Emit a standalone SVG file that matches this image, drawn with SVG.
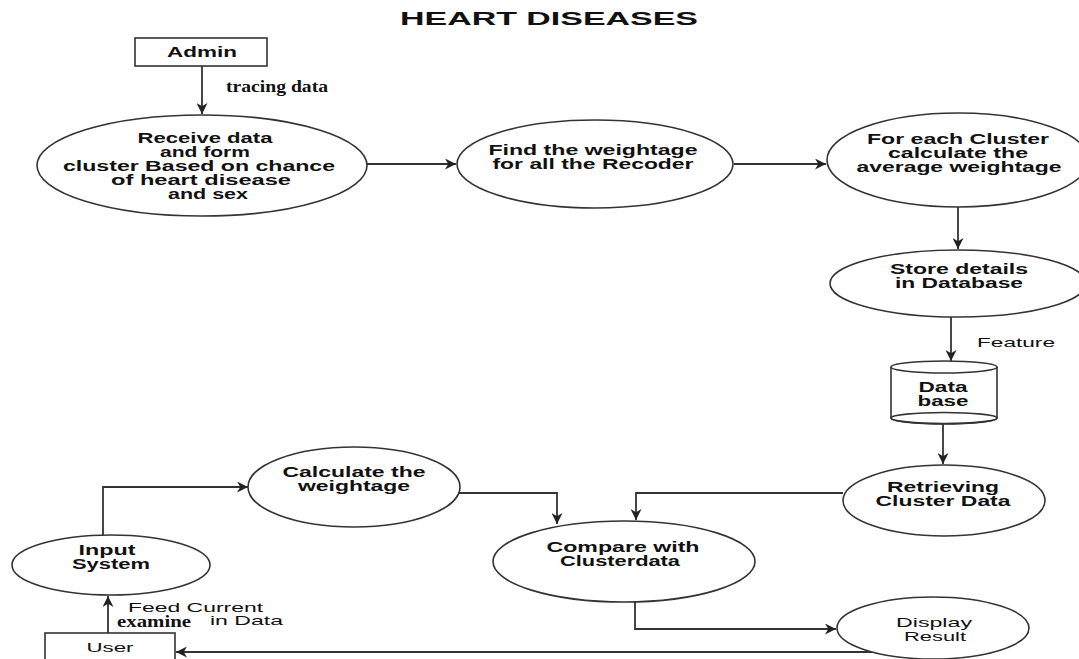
<svg xmlns="http://www.w3.org/2000/svg" width="1079" height="659" viewBox="0 0 1079 659">
<style>
.shape{fill:#fff;stroke:#333;stroke-width:1.6}
.conn{fill:none;stroke:#333;stroke-width:1.8}
text{fill:#111;text-anchor:middle}
.b{font-family:"Liberation Sans",Arial,sans-serif;font-weight:bold;font-size:14px}
.r{font-family:"Liberation Sans",Arial,sans-serif;font-size:13px}
.s{font-family:"Liberation Serif","Times New Roman",serif;font-weight:bold;font-size:16px}
.t{font-family:"Liberation Sans",Arial,sans-serif;font-weight:bold;font-size:19px}
</style>
<defs>
<marker id="arr" viewBox="0 0 10 10" refX="10" refY="5" markerWidth="11" markerHeight="11" markerUnits="userSpaceOnUse" orient="auto">
<path d="M0,0 L10,5 L0,10 L3,5 z" fill="#222"/>
</marker>
</defs>
<rect width="1079" height="659" fill="#fff"/>
<text class="t" x="549" y="25" textLength="298" lengthAdjust="spacingAndGlyphs">HEART DISEASES</text>

<g id="connectors">
<path class="conn" d="M202,66 V114" marker-end="url(#arr)"/>
<path class="conn" d="M367,164 H456" marker-end="url(#arr)"/>
<path class="conn" d="M734,164 H826" marker-end="url(#arr)"/>
<path class="conn" d="M958,207 V249" marker-end="url(#arr)"/>
<path class="conn" d="M951,317 V361" marker-end="url(#arr)"/>
<path class="conn" d="M943,424 V464" marker-end="url(#arr)"/>
<path class="conn" d="M843,493 H636 V520" marker-end="url(#arr)"/>
<path class="conn" d="M459,493 H557 V524" marker-end="url(#arr)"/>
<path class="conn" d="M103,535 V487 H248" marker-end="url(#arr)"/>
<path class="conn" d="M635,602 V629 H836" marker-end="url(#arr)"/>
<path class="conn" d="M872,652 H176" marker-end="url(#arr)"/>
<path class="conn" d="M108,633 V596" marker-end="url(#arr)"/>
<text class="s" x="277" y="92" textLength="102" lengthAdjust="spacingAndGlyphs">tracing data</text>
<text class="r" x="1016" y="347" textLength="78" lengthAdjust="spacingAndGlyphs">Feature</text>
<text class="r" x="195.5" y="612" textLength="135" lengthAdjust="spacingAndGlyphs">Feed Current</text>
<text class="r" x="246.5" y="625" textLength="73" lengthAdjust="spacingAndGlyphs">in Data</text>
<text class="s" x="154" y="627" font-size="15" textLength="74" lengthAdjust="spacingAndGlyphs">examine</text>
</g>

<g id="admin">
<rect class="shape" x="135" y="38" width="132" height="28"/>
<text class="b" x="202" y="57" font-size="13" textLength="70" lengthAdjust="spacingAndGlyphs">Admin</text>
</g>

<g id="receive">
<ellipse class="shape" cx="202" cy="165.5" rx="165" ry="50.5"/>
<text class="b" x="205" y="143" textLength="135" lengthAdjust="spacingAndGlyphs">Receive data</text>
<text class="b" x="205" y="157" textLength="90" lengthAdjust="spacingAndGlyphs">and form</text>
<text class="b" x="199" y="171" textLength="272" lengthAdjust="spacingAndGlyphs">cluster Based on chance</text>
<text class="b" x="201" y="185" textLength="180" lengthAdjust="spacingAndGlyphs">of heart disease</text>
<text class="b" x="208" y="199" textLength="80" lengthAdjust="spacingAndGlyphs">and sex</text>
</g>

<g id="find">
<ellipse class="shape" cx="595" cy="164" rx="138" ry="44"/>
<text class="b" x="593" y="155" textLength="209" lengthAdjust="spacingAndGlyphs">Find the weightage</text>
<text class="b" x="593" y="169" textLength="201" lengthAdjust="spacingAndGlyphs">for all the Recoder</text>
</g>

<g id="average">
<ellipse class="shape" cx="958" cy="160" rx="131" ry="47"/>
<text class="b" x="958" y="144" textLength="182" lengthAdjust="spacingAndGlyphs">For each Cluster</text>
<text class="b" x="958" y="158" textLength="140" lengthAdjust="spacingAndGlyphs">calculate the</text>
<text class="b" x="959" y="172" textLength="205" lengthAdjust="spacingAndGlyphs">average weightage</text>
</g>

<g id="store">
<ellipse class="shape" cx="958" cy="283.5" rx="128" ry="33.5"/>
<text class="b" x="959" y="274" textLength="138" lengthAdjust="spacingAndGlyphs">Store details</text>
<text class="b" x="959" y="288" textLength="128" lengthAdjust="spacingAndGlyphs">in Database</text>
</g>

<g id="database">
<path class="shape" d="M891,367 V418 A53,6 0 0 0 997,418 V367" stroke-width="2.4"/>
<ellipse class="shape" cx="944" cy="418" rx="53" ry="5.5" fill="none" style="fill:none"/>
<ellipse class="shape" cx="944" cy="367" rx="53" ry="6"/>
<text class="b" x="943" y="392" textLength="49" lengthAdjust="spacingAndGlyphs">Data</text>
<text class="b" x="943" y="406" textLength="51" lengthAdjust="spacingAndGlyphs">base</text>
</g>

<g id="retrieving">
<ellipse class="shape" cx="944" cy="500.5" rx="101" ry="35.5"/>
<text class="b" x="943" y="492" textLength="112" lengthAdjust="spacingAndGlyphs">Retrieving</text>
<text class="b" x="943" y="506" textLength="135" lengthAdjust="spacingAndGlyphs">Cluster Data</text>
</g>

<g id="calculate">
<ellipse class="shape" cx="354" cy="487" rx="106" ry="40"/>
<text class="b" x="354" y="477" textLength="143" lengthAdjust="spacingAndGlyphs">Calculate the</text>
<text class="b" x="354" y="491" textLength="112" lengthAdjust="spacingAndGlyphs">weightage</text>
</g>

<g id="compare">
<ellipse class="shape" cx="624" cy="561.5" rx="131" ry="40.5"/>
<text class="b" x="623" y="552" textLength="153" lengthAdjust="spacingAndGlyphs">Compare with</text>
<text class="b" x="620" y="566" textLength="120" lengthAdjust="spacingAndGlyphs">Clusterdata</text>
</g>

<g id="input">
<ellipse class="shape" cx="111" cy="565" rx="99" ry="30"/>
<text class="b" x="107" y="555" textLength="57" lengthAdjust="spacingAndGlyphs">Input</text>
<text class="b" x="111" y="569" textLength="78" lengthAdjust="spacingAndGlyphs">System</text>
</g>

<g id="display">
<ellipse class="shape" cx="933" cy="628" rx="96" ry="31"/>
<text class="r" x="934" y="627" textLength="76" lengthAdjust="spacingAndGlyphs">Display</text>
<text class="r" x="935" y="641" textLength="62" lengthAdjust="spacingAndGlyphs">Result</text>
</g>

<g id="user">
<rect class="shape" x="45" y="633" width="130" height="34"/>
<text class="r" x="110" y="652" textLength="47" lengthAdjust="spacingAndGlyphs">User</text>
</g>
</svg>
